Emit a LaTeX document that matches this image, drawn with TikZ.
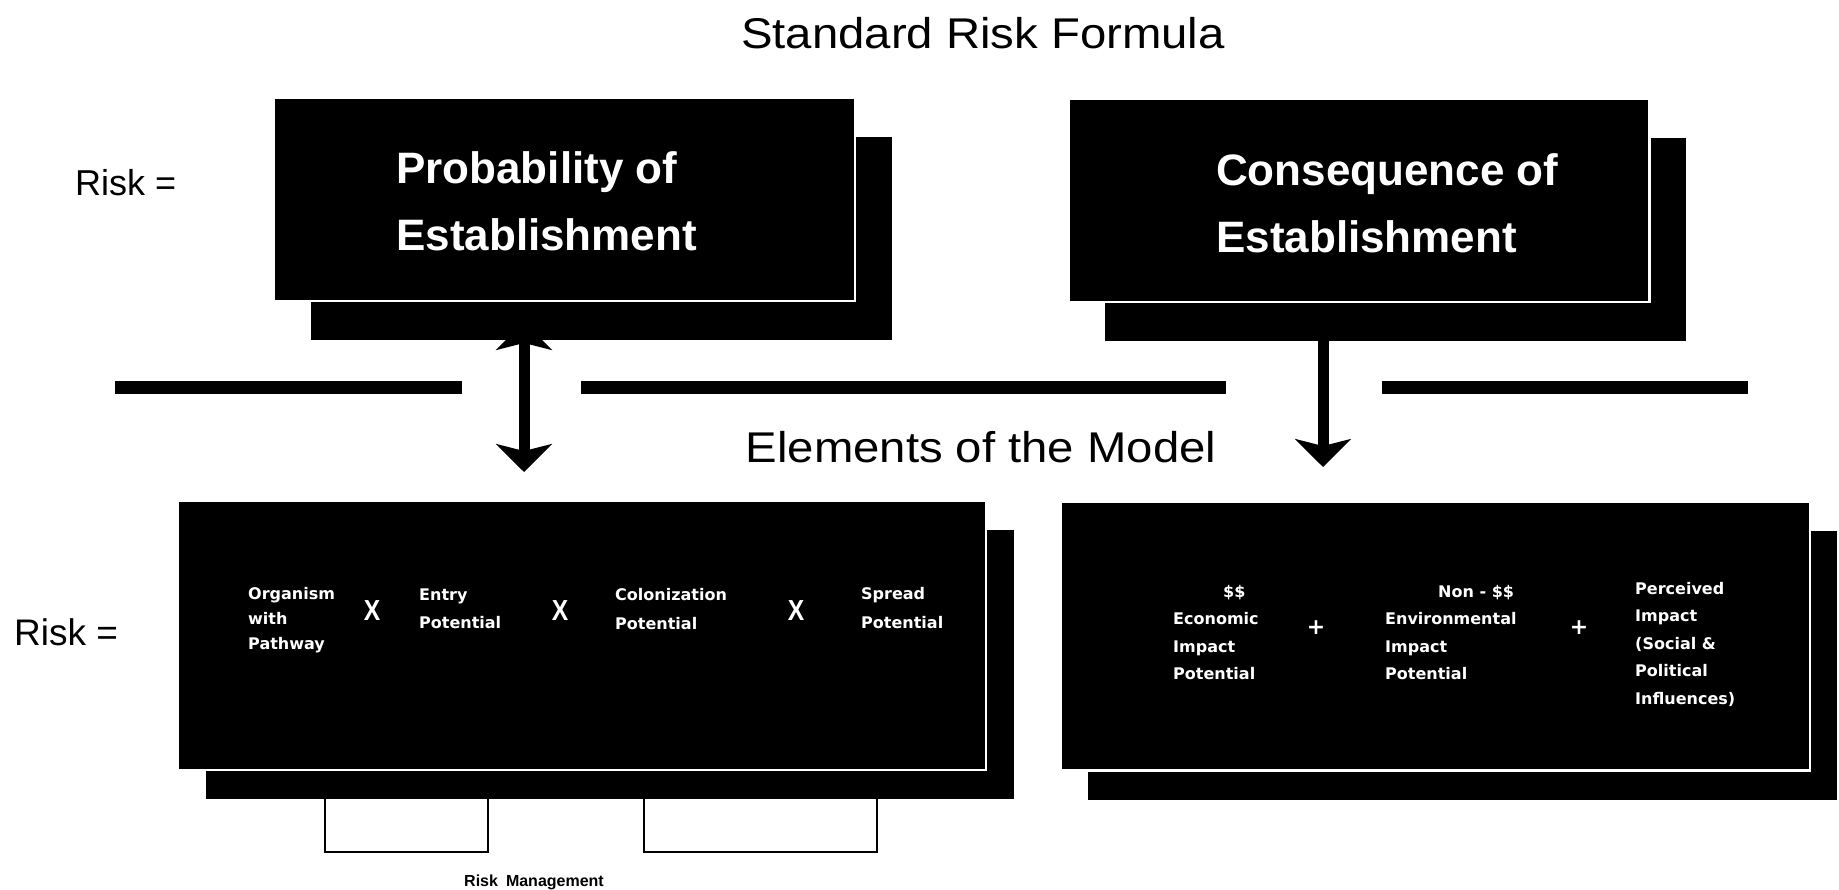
\documentclass[tikz,border=0pt]{standalone}
\usepackage{fontspec}
\setmainfont{Liberation Sans}
\newfontfamily\headface[FakeStretch=1.1]{Liberation Sans}
\newfontfamily\cellface{DejaVu Sans}
\newfontfamily\narrowface[FakeStretch=0.85]{Liberation Sans}
\usetikzlibrary{arrows.meta,positioning}

\begin{document}
\begin{tikzpicture}[
    x=1pt, y=-1pt,
    slab/.style={rectangle, fill=black, inner sep=0pt},
    topslab/.style={slab, minimum width=581pt, minimum height=203pt},
    lowslab/.style={slab, minimum height=269pt},
    gapline/.style={draw=white, line width=2.5pt},
    heading/.style={font=\headface\fontsize{43}{50}\selectfont, anchor=base},
    riskeq/.style={font=\fontsize{36}{40}\selectfont, anchor=base west, inner sep=0pt},
    bigtext/.style={text=white, align=left, anchor=west, inner sep=0pt, font=\fontsize{44}{67}\selectfont\bfseries},
    cell/.style={text=white, align=left, anchor=north west, inner sep=0pt, font=\cellface\bfseries\fontsize{16}{#1}\selectfont},
    cell/.default=28,
    timesmark/.style={text=white, inner sep=0pt, font=\narrowface\bfseries\fontsize{29}{29}\selectfont},
    plusmark/.style={text=white, inner sep=0pt, font=\cellface\bfseries\fontsize{22}{22}\selectfont},
    rulebar/.style={line width=13pt},
    fatarrow/.style={line width=11pt, >={Stealth[length=28pt, width=56pt, inset=7pt]}, ->},
    rmbracket/.style={line width=1.6pt}
]
\useasboundingbox (0,0) rectangle (1839,889);

% standard formula
\node[heading] (title) at (983,48) {Standard Risk Formula};
\node[riskeq] (riskup) at (75,195) {Risk =};

\node[topslab] (probback) at (601.5,238.5) {};
\node[topslab, gapline] (prob) at (564.5,199.5) {};
\node[bigtext] (probtxt) at (396,201) {Probability of\\Establishment};

\node[topslab] (consback) at (1395.5,239.5) {};
\node[topslab, gapline] (cons) at (1359,200.5) {};
\node[bigtext] (constxt) at (1216,203) {Consequence of\\Establishment};

% divider
\foreach \from/\to in {115/462, 581/1226, 1382/1748}
  \draw[rulebar] (\from,387) -- (\to,387);

\coordinate (probout) at (524,322);
\coordinate (pathin) at (524,472);
\coordinate (consout) at (1323,340);
\coordinate (impin) at (1323,467);
\draw[fatarrow, <->] (probout) -- (pathin);
\draw[fatarrow] (consout) -- (impin);

\node[heading] (elements) at (981,462) {Elements of the Model};

% elements of the model
\node[riskeq, font=\fontsize{37}{40}\selectfont] (risklow) at (14,645) {Risk =};

\node[lowslab, minimum width=808pt] (pathback) at (610,664.5) {};
\node[lowslab, minimum width=808pt, gapline] (path) at (582,635.5) {};
\node[lowslab, minimum width=749pt] (impback) at (1462.5,665) {};
\node[lowslab, minimum width=749pt, gapline] (imp) at (1435.5,636) {};

\node[cell=25] (organism) at (248,587) {Organism\\with\\Pathway};
\node[timesmark] (xa) at (372,611) {X};
\node[cell] (entry) at (419,589) {Entry\\Potential};
\node[timesmark] (xb) at (560,611) {X};
\node[cell=29] (colon) at (615,588) {Colonization\\Potential};
\node[timesmark] (xc) at (796,611) {X};
\node[cell=29] (spread) at (861,587) {Spread\\Potential};

\node[cell=27.5] (econ) at (1173,585) {\hspace*{50pt}\$\$\\Economic\\Impact\\Potential};
\node[plusmark] (pa) at (1316,628) {+};
\node[cell=27.5] (envir) at (1385,585) {\hspace*{53pt}Non - \$\$\\Environmental\\Impact\\Potential};
\node[plusmark] (pb) at (1579,628) {+};
\node[cell=27.5] (perceived) at (1635,582) {Perceived\\Impact\\(Social \&\\Political\\Influences)};

% risk management brackets
\draw[rmbracket] (325,799) |- (488,852) -- (488,799);
\draw[rmbracket] (644,799) |- (877,852) -- (877,799);
\node[font=\bfseries\fontsize{16}{16}\selectfont, anchor=base] (riskmgmt) at (534,886) {Risk\enspace Management};

\end{tikzpicture}
\end{document}
